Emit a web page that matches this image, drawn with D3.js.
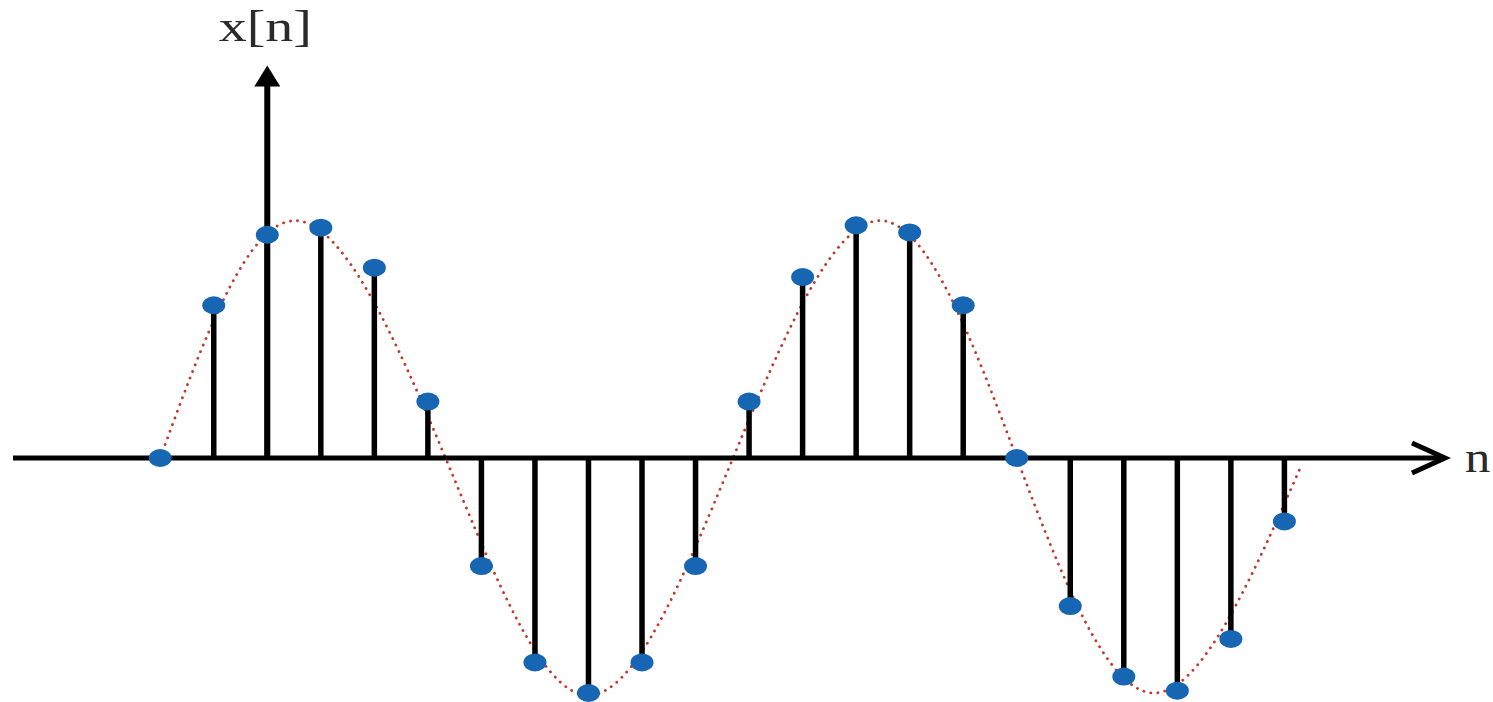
<!DOCTYPE html>
<html>
<head>
<meta charset="utf-8">
<script src="https://cdn.jsdelivr.net/npm/d3@7"></script>
<style>
  html, body { margin: 0; padding: 0; background: #fff; }
  svg { display: block; }
</style>
</head>
<body>
<div id="chart"></div>
<script>
// sample indices and sampled values x[n]
const samples = [-2, -1, 0, 1, 2, 3, 4, 5, 6, 7, 8, 9, 10, 11, 12, 13, 14, 15, 16, 17, 18, 19]
const values = [0, 0.65, 0.95, 0.98, 0.81, 0.24, -0.46, -0.87, -1.0, -0.87, -0.46,
  0.24, 0.77, 0.99, 0.96, 0.65, 0, -0.63, -0.93, -0.99, -0.77, -0.27]

// dotted continuous envelope (zero crossings and extremes)
const envN = [-2, 0.52, 3.33, 6.0, 8.7, 11.45, 14.0, 16.55, 19.3]
const envV = [0, 1.01, 0, -1.01, 0, 1.01, 0, -1.0, -0.04]

const xLabel = 'n'
const yLabel = 'x[n]'

const width = 1493
const height = 702

const svg = d3.select('#chart')
  .append('svg')
  .attr('width', width)
  .attr('height', height)
  .style('background-color', '#ffffff')

const xScale = d3.scaleLinear().domain([-4.75, 22]).range([13, 1445])
const yScale = d3.scaleLinear().domain([1, -1]).range([223, 693])

const x0 = xScale(0)
const y0 = yScale(0)

// envelope
const envData = envN.map((n, i) => ({ n, v: envV[i] }))
const line = d3.line()
  .x(d => xScale(d.n))
  .y(d => yScale(d.v))
  .curve(d3.curveNatural)

svg.append('path')
  .datum(envData)
  .attr('d', line)
  .style('fill', 'none')
  .style('stroke', '#c0392b')
  .style('stroke-width', 2.8)
  .style('stroke-linecap', 'round')
  .style('stroke-dasharray', '0.1,7')

// axes
const axisg = svg.append('g').classed('axes', true)
  .style('stroke', '#000')
  .style('fill', 'none')

axisg.append('line')
  .attr('x1', xScale(-4.75))
  .attr('x2', xScale(21.9))
  .attr('y1', y0)
  .attr('y2', y0)
  .style('stroke-width', 5)

const tipX = xScale(22)
axisg.append('path')
  .attr('d', `M${tipX - 33},${y0 - 15} L${tipX},${y0} L${tipX - 33},${y0 + 15}`)
  .style('stroke-width', 5)
  .style('stroke-linejoin', 'miter')

const yTop = yScale(1.67)
axisg.append('line')
  .attr('x1', x0)
  .attr('x2', x0)
  .attr('y1', y0)
  .attr('y2', yTop + 18)
  .style('stroke-width', 6)

axisg.append('path')
  .attr('d', `M${x0},${yTop} L${x0 + 13},${yTop + 21} L${x0 - 13},${yTop + 21} Z`)
  .style('fill', '#000')
  .style('stroke', 'none')

// stems
const data = samples.map((n, i) => ({ n, v: values[i] }))

svg.append('g').classed('stems', true)
  .selectAll('line')
  .data(data)
  .enter()
  .append('line')
  .attr('x1', d => xScale(d.n))
  .attr('x2', d => xScale(d.n))
  .attr('y1', y0)
  .attr('y2', d => yScale(d.v))
  .style('stroke', '#000')
  .style('stroke-width', 5.5)

svg.append('g').classed('dots', true)
  .selectAll('ellipse')
  .data(data)
  .enter()
  .append('ellipse')
  .attr('cx', d => xScale(d.n))
  .attr('cy', d => yScale(d.v))
  .attr('rx', 11.5)
  .attr('ry', 9)
  .style('fill', '#1766b3')

// labels (the picture is stretched sideways, so the text is too)
svg.append('text')
  .text(yLabel)
  .attr('text-anchor', 'middle')
  .attr('transform', `translate(${x0 - 2}, 41) scale(1.27, 1)`)
  .style('font-family', '"Liberation Serif", "DejaVu Serif", serif')
  .style('font-size', '44px')
  .style('fill', '#2a2a2a')

svg.append('text')
  .text(xLabel)
  .attr('transform', 'translate(1465, 472) scale(1.15, 1)')
  .style('font-family', '"Liberation Serif", "DejaVu Serif", serif')
  .style('font-size', '44px')
  .style('fill', '#2a2a2a')
</script>
</body>
</html>
